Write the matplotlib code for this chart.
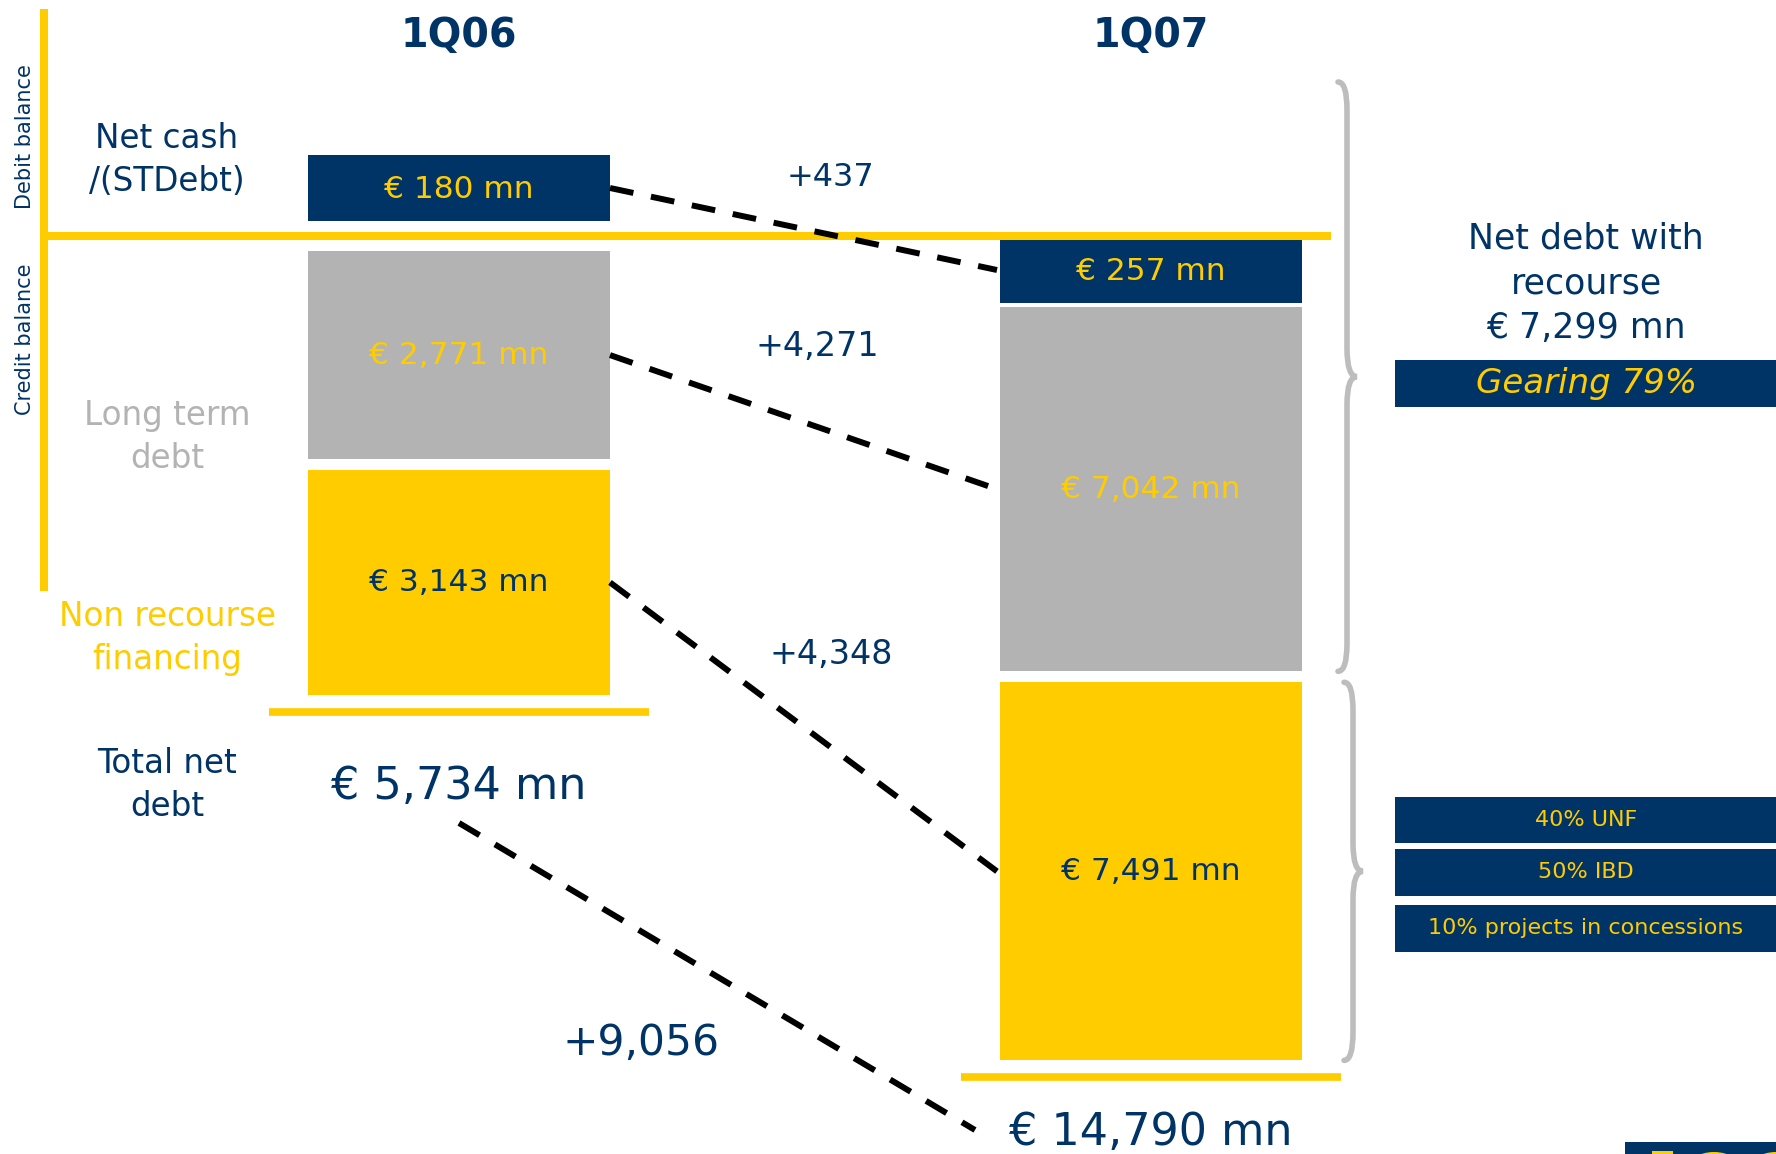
import matplotlib.pyplot as plt
from matplotlib.path import Path
from matplotlib.patches import PathPatch, Rectangle, Ellipse

plt.rcParams['font.family'] = ['DejaVu Sans']

# Net debt breakdown, € mn (negative net cash = debit balance)
periods = ['1Q06', '1Q07']
net_cash = [-180, 257]
long_term = [2771, 7042]
non_recourse = [3143, 7491]
row_labels = ['Net cash\n/(STDebt)', 'Long term\ndebt', 'Non recourse\nfinancing', 'Total net\ndebt']
gearing = 79
non_recourse_split = ['40% UNF', '50% IBD', '10% projects in concessions']

NAVY = '#003366'
YELLOW = '#FFCC00'
GRAY = '#B3B3B3'
BRACE = '#BDBDBD'

W, H = 1776, 1154
fig = plt.figure(figsize=(W / 100, H / 100), dpi=100)
ax = fig.add_axes([0, 0, 1, 1])
ax.set_xlim(0, W)
ax.set_ylim(H, 0)
ax.axis('off')


def bar_h(v):
    # power scale so the small cash boxes still hold their label
    return max(1.79 * abs(v) ** 0.6, 66)


def eur(v):
    return f'€ {abs(v):,} mn'


xc = [459, 1151]
bar_w = 302
line_y = 236

# debit / credit axis
ax.plot([44, 44], [9, 591], color=YELLOW, lw=5.8, solid_capstyle='butt')
ax.plot([41, 1331], [line_y, line_y], color=YELLOW, lw=5.8, solid_capstyle='butt')
ax.text(25, 137, 'Debit balance', rotation=90, ha='center', va='center', color=NAVY, fontsize=15)
ax.text(25, 339, 'Credit balance', rotation=90, ha='center', va='center', color=NAVY, fontsize=15)

for x, p in zip(xc, periods):
    ax.text(x, 36, p, ha='center', va='center', color=NAVY, fontsize=28.5, fontweight='bold')

mids = []
bottoms = []
for i in range(2):
    hc = bar_h(net_cash[i])
    hl = bar_h(long_term[i])
    hn = bar_h(non_recourse[i])
    if net_cash[i] < 0:
        cash_top = line_y - 15 - hc
        lt_top = line_y + 15
    else:
        cash_top = line_y + 1
        lt_top = cash_top + hc + 4
    nr_top = lt_top + hl + 11
    ax.bar(xc[i], hc, bottom=cash_top, width=bar_w, color=NAVY)
    ax.bar(xc[i], hl, bottom=lt_top, width=bar_w, color=GRAY)
    ax.bar(xc[i], hn, bottom=nr_top, width=bar_w, color=YELLOW)
    ax.text(xc[i], cash_top + hc / 2 + 2, eur(net_cash[i]), ha='center', va='center', color=YELLOW, fontsize=22.5)
    ax.text(xc[i], lt_top + hl / 2, eur(long_term[i]), ha='center', va='center', color=YELLOW, fontsize=22.5)
    ax.text(xc[i], nr_top + hn / 2, eur(non_recourse[i]), ha='center', va='center', color=NAVY, fontsize=22.5)
    mids.append([cash_top + hc / 2, lt_top + hl / 2, nr_top + hn / 2])
    bottoms.append((lt_top + hl, nr_top, nr_top + hn))
    base = nr_top + hn + 17
    ax.plot([xc[i] - 190, xc[i] + 190], [base, base], color=YELLOW, lw=5.5, solid_capstyle='butt')

totals = [net_cash[i] + long_term[i] + non_recourse[i] for i in range(2)]
total_y = [786, 1132]
for i in range(2):
    ax.text(xc[i], total_y[i], eur(totals[i]), ha='center', va='center', color=NAVY, fontsize=32)

# left row labels
row_y = [160, 437, 638, 785]
row_col = [NAVY, GRAY, YELLOW, NAVY]
for lab, y, c in zip(row_labels, row_y, row_col):
    ax.text(167, y, lab, ha='center', va='center', color=c, fontsize=23.5, linespacing=1.4)

# dashed connectors with change labels
dash = dict(color='black', lw=4.3, linestyle=(0, (4, 3)), dash_capstyle='butt')
x0 = xc[0] + bar_w / 2
x1 = xc[1] - bar_w / 2
for k in range(3):
    ax.plot([x0, x1 - 3], [mids[0][k], mids[1][k]], **dash)
ax.plot([xc[0], xc[1] - 176], [total_y[0] + 37, total_y[1] - 2], **dash)

deltas = [net_cash[1] - net_cash[0], long_term[1] - long_term[0],
          non_recourse[1] - non_recourse[0], totals[1] - totals[0]]
delta_pos = [(830, 177), (817, 347), (831, 655), (641, 1043)]
delta_fs = [23, 24, 24, 30.5]
for d, (x, y), fs in zip(deltas, delta_pos, delta_fs):
    ax.text(x, y, f'+{d:,}', ha='center', va='center', color=NAVY, fontsize=fs)


def brace(x, y0, y1, reach=10, curl=9, r=28):
    tip = (y0 + y1) / 2
    verts = [(x - curl, y0), (x, y0), (x, y0 + r),
             (x, tip - r), (x, tip), (x + reach, tip),
             (x, tip), (x, tip + r),
             (x, y1 - r), (x, y1), (x - curl, y1)]
    codes = [Path.MOVETO, Path.CURVE3, Path.CURVE3,
             Path.LINETO, Path.CURVE3, Path.CURVE3,
             Path.CURVE3, Path.CURVE3,
             Path.LINETO, Path.CURVE3, Path.CURVE3]
    ax.add_patch(PathPatch(Path(verts, codes), fill=False, edgecolor=BRACE, lw=4, capstyle='round'))


brace(1347, 82, bottoms[1][0])
brace(1353, bottoms[1][1], bottoms[1][2])

# right-hand notes
recourse = net_cash[1] + long_term[1]
ax.text(1586, 283, f'Net debt with\nrecourse\n{eur(recourse)}', ha='center', va='center',
        color=NAVY, fontsize=25, linespacing=1.4)
ax.add_patch(Rectangle((1395, 360), W - 1395, 47, color=NAVY, lw=0))
ax.text(1586, 384, f'Gearing {gearing}%', ha='center', va='center', color=YELLOW,
        fontsize=24.5, style='italic')

split_y = [(797, 843), (849, 896), (905, 952)]
for lab, (ya, yb) in zip(non_recourse_split, split_y):
    ax.add_patch(Rectangle((1395, ya), W - 1395, yb - ya, color=NAVY, lw=0))
    ax.text(1586, (ya + yb) / 2, lab, ha='center', va='center', color=YELLOW, fontsize=16)

# corner logo strip, only its top edge is on the page
ax.add_patch(Rectangle((1625, 1142), W - 1625, 20, color=NAVY, lw=0))
ax.add_patch(Rectangle((1652, 1151), 21, 10, color=YELLOW, lw=0))
ax.add_patch(Ellipse((1714, 1172), 58, 40, color=YELLOW, lw=0))
ax.add_patch(Ellipse((1776, 1172), 58, 40, color=YELLOW, lw=0))

fig.savefig('out.png', dpi=100)
